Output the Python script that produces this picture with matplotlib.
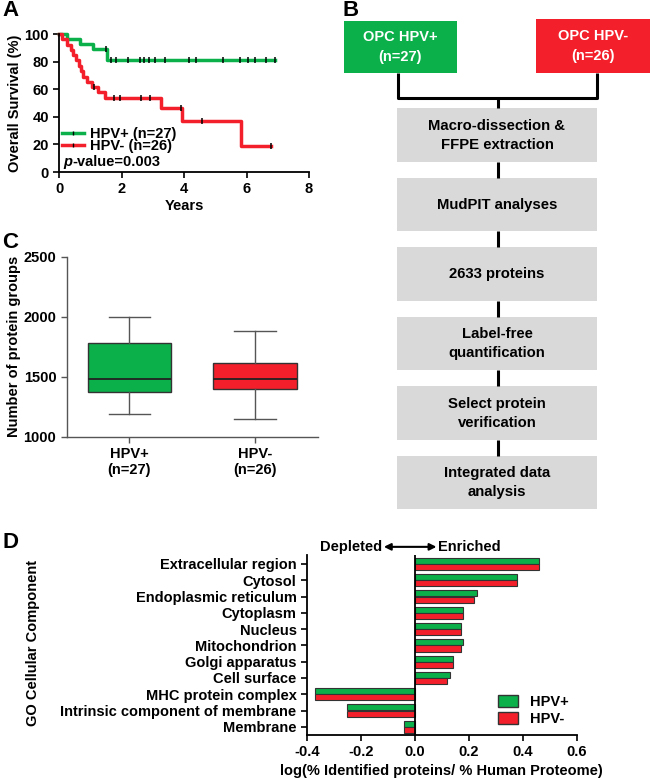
import numpy as np
import matplotlib.pyplot as plt
from matplotlib.patches import Rectangle, Patch
from matplotlib.lines import Line2D

plt.rcParams['font.family'] = ['Liberation Sans', 'DejaVu Sans']
plt.rcParams['font.weight'] = 'bold'
plt.rcParams['axes.labelweight'] = 'bold'
plt.rcParams['axes.linewidth'] = 1.3

GREEN = '#0bb04b'
RED = '#f3202b'
GREY = '#d9d9d9'

# --- A: Kaplan-Meier data (years, % survival) ---
pos_time = [0, 0.24, 0.66, 1.07, 1.54, 6.92]
pos_surv = [100, 96.3, 92.6, 88.9, 81.1, 81.1]
pos_cens = [1.49, 1.65, 1.83, 2.2, 2.58, 2.72, 2.88, 3.06, 3.38, 4.16, 4.39,
            5.24, 5.8, 6.04, 6.28, 6.63, 6.92]

neg_time = [0, 0.1, 0.25, 0.37, 0.45, 0.55, 0.63, 0.68, 0.77, 0.9, 1.05,
            1.25, 1.45, 3.25, 3.92, 5.83, 6.79]
neg_surv = [100, 96.2, 92.3, 88.5, 84.6, 80.8, 76.9, 73.1, 69.2, 65.4, 61.5,
            57.7, 53.8, 46.2, 36.9, 18.5, 18.5]
neg_cens = [1.12, 1.76, 1.95, 2.63, 2.9, 3.9, 4.57, 6.79]

# --- C: box plot stats ---
box_groups = ['HPV+\n(n=27)', 'HPV-\n(n=26)']
box_whislo = [1187, 1145]
box_q1 = [1370, 1395]
box_med = [1478, 1480]
box_q3 = [1778, 1611]
box_whishi = [2000, 1880]

# --- B: workflow steps ---
flow_steps = ['Macro-dissection &\nFFPE extraction', 'MudPIT analyses',
              '2633 proteins', 'Label-free\nquantification',
              'Select protein\nverification', 'Integrated data\nanalysis']

# --- D: GO cellular component enrichment ---
go_terms = ['Extracellular region', 'Cytosol', 'Endoplasmic reticulum',
            'Cytoplasm', 'Nucleus', 'Mitochondrion', 'Golgi apparatus',
            'Cell surface', 'MHC protein complex',
            'Intrinsic component of membrane', 'Membrane']
go_pos = [0.46, 0.38, 0.23, 0.18, 0.17, 0.18, 0.14, 0.13, -0.37, -0.25, -0.04]
go_neg = [0.46, 0.38, 0.22, 0.18, 0.17, 0.17, 0.14, 0.12, -0.37, -0.25, -0.04]

W, H = 650, 778
fig = plt.figure(figsize=(W / 100, H / 100), dpi=100)


def px_axes(left, top, right, bottom):
    return fig.add_axes([left / W, 1 - bottom / H, (right - left) / W, (bottom - top) / H])


def surv_at(times, surv, t):
    idx = np.searchsorted(times, t, side='right') - 1
    return np.asarray(surv)[idx]


# ---------------- B: flowchart (pixel coords overlay) ----------------
fl = fig.add_axes([0, 0, 1, 1])
fl.set_xlim(0, W)
fl.set_ylim(H, 0)
fl.axis('off')

fl.add_patch(Rectangle((344, 20.5), 112.5, 52.8, color=GREEN, lw=0))
fl.add_patch(Rectangle((536, 19), 114, 53.7, color=RED, lw=0))
fl.text(400.2, 47, 'OPC HPV+\n(n=27)', ha='center', va='center', color='white',
        fontsize=10.5, linespacing=1.55)
fl.text(593, 46, 'OPC HPV-\n(n=26)', ha='center', va='center', color='white',
        fontsize=10.5, linespacing=1.55)
lk = dict(color='black', lw=2.2, solid_capstyle='butt')
fl.plot([398.3, 398.3, 597.3, 597.3], [73.3, 97.7, 97.7, 72.7], **lk)
fl.plot([497.7, 497.7], [97.7, 108.3], **lk)

box_top, box_h, pitch = 108.3, 53.5, 69.5
for i, step in enumerate(flow_steps):
    top = box_top + i * pitch
    fl.add_patch(Rectangle((397.3, top), 199.4, box_h, color=GREY, lw=0))
    fl.text(497, top + box_h / 2, step, ha='center', va='center',
            fontsize=10.7, linespacing=1.45)
    if i < len(flow_steps) - 1:
        fl.plot([497.7, 497.7], [top + box_h, top + pitch], **lk)

# ---------------- A: survival ----------------
ax = px_axes(59.3, 34, 309, 172)
ax.step(pos_time, pos_surv, where='post', color=GREEN, lw=2.5, clip_on=False)
ax.step(neg_time, neg_surv, where='post', color=RED, lw=2.5, clip_on=False)
ax.plot(pos_cens, surv_at(pos_time, pos_surv, pos_cens), ls='none', marker='|',
        ms=4, mew=1.1, color='k', clip_on=False)
ax.plot(neg_cens, surv_at(neg_time, neg_surv, neg_cens), ls='none', marker='|',
        ms=4, mew=1.1, color='k', clip_on=False)
ax.set_xlim(0, 8)
ax.set_ylim(0, 100)
ax.set_xticks([0, 2, 4, 6, 8])
ax.set_yticks([0, 20, 40, 60, 80, 100])
for s in ['top', 'right']:
    ax.spines[s].set_visible(False)
ax.tick_params(labelsize=10.5, length=4, width=1.2)
ax.set_xlabel('Years', fontsize=10.5, labelpad=2)
ax.set_ylabel('Overall Survival (%)', fontsize=10.5, labelpad=2)
handles = [Line2D([], [], color=GREEN, lw=2.5, marker='|', mec='k', ms=3.5),
           Line2D([], [], color=RED, lw=2.5, marker='|', mec='k', ms=3.5)]
ax.legend(handles, ['HPV+ (n=27)', 'HPV- (n=26)'], loc='lower left',
          bbox_to_anchor=(0.01, 0.135), frameon=False, fontsize=10.5,
          handlelength=1.5, handletextpad=0.4, labelspacing=-0.1,
          borderpad=0, borderaxespad=0, markerfirst=True)
t = ax.text(0.015, 0.075, 'p', transform=ax.transAxes, fontsize=10.5,
            style='italic', va='center')
ax.annotate('-value=0.003', xy=(1, 0.5), xycoords=t, va='center', fontsize=10.5)

# ---------------- C: box plot ----------------
ac = px_axes(66.7, 256.7, 317.7, 436.7)
stats = [dict(med=m, q1=a, q3=b, whislo=lo, whishi=hi, label=g)
         for g, lo, a, m, b, hi in zip(box_groups, box_whislo, box_q1,
                                       box_med, box_q3, box_whishi)]
bp = ac.bxp(stats, positions=[1, 2], widths=0.667, patch_artist=True,
            showfliers=False,
            boxprops=dict(edgecolor='#333333', lw=1),
            medianprops=dict(color='#222222', lw=1.3),
            whiskerprops=dict(color='#555555', lw=1),
            capprops=dict(color='#555555', lw=1))
for patch, c in zip(bp['boxes'], [GREEN, RED]):
    patch.set_facecolor(c)
ac.set_xlim(0.5, 2.5)
ac.set_ylim(1000, 2500)
ac.set_yticks([1000, 1500, 2000, 2500])
for s in ['top', 'right']:
    ac.spines[s].set_visible(False)
for s in ['left', 'bottom']:
    ac.spines[s].set_color('#555555')
    ac.spines[s].set_linewidth(1)
ac.tick_params(labelsize=10.5, length=4, width=1, color='#555555')
ac.tick_params(axis='x', labelsize=10.5)
ac.set_ylabel('Number of protein groups', fontsize=10.5, labelpad=2)

# ---------------- D: GO bars ----------------
ad = px_axes(307, 555, 576.7, 735)
y = np.arange(len(go_terms))
ad.barh(y - 0.19, go_pos, height=0.37, color=GREEN, edgecolor='#333333', lw=0.8)
ad.barh(y + 0.19, go_neg, height=0.37, color=RED, edgecolor='#333333', lw=0.8)
ad.axvline(0, color='black', lw=1.3)
ad.set_ylim(10.5, -0.55)
ad.set_xlim(-0.4, 0.6)
ad.set_xticks([-0.4, -0.2, 0.0, 0.2, 0.4, 0.6])
ad.set_xticklabels(['-0.4', '-0.2', '0.0', '0.2', '0.4', '0.6'])
ad.set_yticks(y)
ad.set_yticklabels(go_terms)
for s in ['top', 'right']:
    ad.spines[s].set_visible(False)
ad.tick_params(labelsize=10.5, length=4, width=1.2)
ad.set_xlabel('log(% Identified proteins/ % Human Proteome)', fontsize=10.5,
              labelpad=3)
ad.annotate('', xy=(-0.115, -1.05), xytext=(0.08, -1.05),
            arrowprops=dict(arrowstyle='<|-|>', color='k', lw=1.5,
                            shrinkA=0, shrinkB=0, mutation_scale=10),
            annotation_clip=False)
ad.text(-0.12, -1.05, 'Depleted', ha='right', va='center', fontsize=10.5, clip_on=False)
ad.text(0.085, -1.05, 'Enriched', ha='left', va='center', fontsize=10.5, clip_on=False)
ad.legend([Patch(facecolor=GREEN, edgecolor='#333333'),
           Patch(facecolor=RED, edgecolor='#333333')], ['HPV+', 'HPV-'],
          loc='lower right', bbox_to_anchor=(0.97, 0.05), frameon=False,
          fontsize=10.5, handlelength=1.4, handleheight=0.8, labelspacing=0.2,
          borderpad=0, borderaxespad=0)
fig.text(33 / W, 1 - 643 / H, 'GO Cellular Component', rotation=90,
         ha='center', va='center', fontsize=10.5)

# ---------------- panel letters ----------------
for letter, (lx, ly) in {'A': (2, 0), 'B': (342, 0), 'C': (2, 232),
                         'D': (2, 532)}.items():
    fig.text(lx / W, 1 - ly / H, letter, fontsize=16, ha='left', va='top')

fig.savefig('out.png', dpi=100)
